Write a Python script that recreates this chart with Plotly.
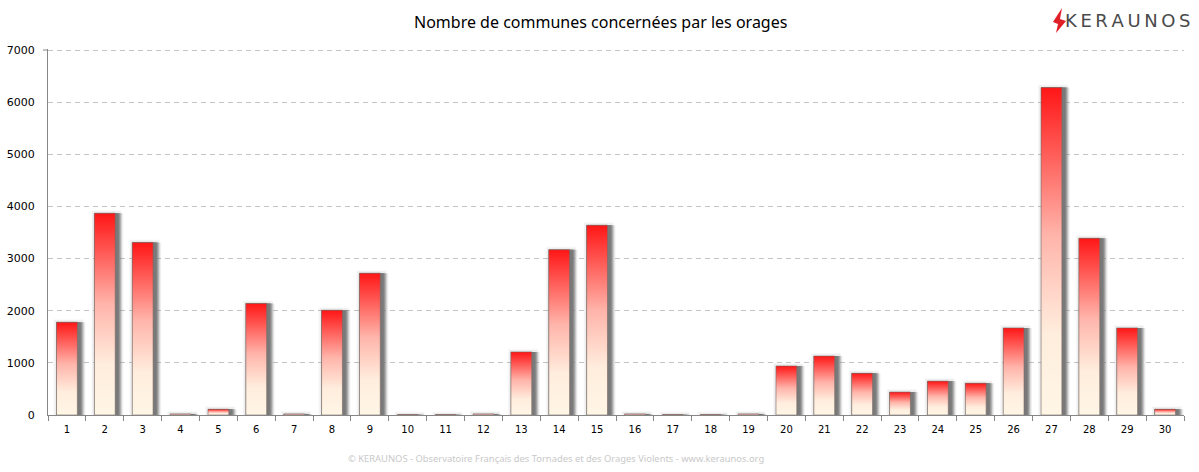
import plotly.graph_objects as go

# storms per day of the month
days = list(range(1, 31))
communes = [1780, 3870, 3310, 20, 110, 2140, 20, 2010, 2720, 5,
            5, 20, 1210, 3170, 3640, 20, 5, 5, 20, 940,
            1130, 800, 440, 650, 610, 1670, 6280, 3390, 1670, 110]
y_ticks = [0, 1000, 2000, 3000, 4000, 5000, 6000, 7000]

title = 'Nombre de communes concernées par les orages'
footer = '© KERAUNOS - Observatoire Français des Tornades et des Orages Violents - www.keraunos.org'

BAR_W = 0.55
PX = 1 / 37.87  # one pixel in x units
PY = 7020 / 366  # one pixel in y units
font_txt = 'Noto Sans'
gradient = [[0, '#fff6e6'], [0.25, '#ffeddd'], [0.55, '#ffb4aa'], [1, '#ff1616']]

fig = go.Figure()

# faint halo around the shadow, reaches a little above and left of the bar
for grow, col in [(3, 'rgba(120,120,120,0.05)'), (2, 'rgba(120,120,120,0.07)')]:
    fig.add_trace(go.Bar(x=days, y=[v + grow * PY for v in communes],
                         width=BAR_W + (grow + 6) * PX, offset=-BAR_W / 2 - grow * PX,
                         marker=dict(color=col, line_width=0),
                         hoverinfo='skip', showlegend=False))

# soft shadow right of the bars, wider and lighter first
for extra, col in [(8, 'rgba(120,120,120,0.10)'), (7, 'rgba(120,120,120,0.16)'),
                   (6, 'rgba(120,120,120,0.26)'), (5, 'rgba(120,120,120,0.45)'),
                   (4, 'rgba(120,120,120,0.7)'), (3, 'rgba(120,120,120,0.9)')]:
    fig.add_trace(go.Bar(x=days, y=communes, width=BAR_W + extra * PX,
                         offset=-BAR_W / 2,
                         marker=dict(color=col, line_width=0),
                         hoverinfo='skip', showlegend=False))

# plotly bars have no gradient fill, so each bar is a filled outline
for d, v in zip(days, communes):
    left, right = d - BAR_W / 2, d + BAR_W / 2
    fig.add_trace(go.Scatter(x=[left, left, right, right, left],
                             y=[0, v, v, 0, 0],
                             mode='lines', fill='toself',
                             fillgradient=dict(type='vertical', colorscale=gradient),
                             line=dict(color='rgba(120,105,100,0.6)', width=1),
                             hoverinfo='skip', showlegend=False))

fig.update_xaxes(range=[0.5, 30.5], tickmode='array', tickvals=days,
                 ticks='', showgrid=False, showline=True, linecolor='#868686',
                 linewidth=1, zeroline=False, fixedrange=True, ticklabelstandoff=5,
                 automargin=False,
                 tickfont=dict(family='DejaVu Sans', size=10, color='#000000'),
                 minor=dict(ticks='outside', tick0=0.5, dtick=1, ticklen=5,
                            tickcolor='#868686', tickwidth=1, showgrid=False))
# top of the range a touch above 7000 so the last gridline is kept
fig.update_yaxes(range=[0, 7020], tickmode='array', tickvals=y_ticks,
                 ticks='', showgrid=True, gridcolor='#c4c4c4', griddash='5px,4px',
                 gridwidth=1, showline=True, linecolor='#868686', linewidth=1,
                 zeroline=False, fixedrange=True, ticklabelstandoff=10,
                 automargin=False,
                 tickfont=dict(family='DejaVu Sans', size=11, color='#000000'))

fig.update_layout(
    width=1199, height=472,
    margin=dict(l=48, r=15, t=49, b=57),
    paper_bgcolor='white', plot_bgcolor='white',
    barmode='overlay', showlegend=False,
    annotations=[
        dict(text=title, xref='paper', yref='paper', x=(600 - 48) / 1136, y=1 + 27 / 366,
             xanchor='center', yanchor='middle', showarrow=False,
             font=dict(family=font_txt, size=16, color='#000000')),
        dict(text=footer, xref='paper', yref='paper', x=(556 - 48) / 1136, y=-43 / 366,
             xanchor='center', yanchor='middle', showarrow=False,
             font=dict(family=font_txt, size=9.4, color='#c9c9c9')),
        dict(text='K\u2009E\u2009R\u2009A\u2009U\u2009N\u2009O\u2009S', xref='paper', yref='paper',
             x=(1192 - 48) / 1136, y=1 + 28 / 366,
             xanchor='right', yanchor='middle', showarrow=False,
             font=dict(family='DejaVu Sans', size=18, color='#4a4a4a')),
    ],
    shapes=[
        # small tick at the top of the y axis
        dict(type='line', xref='paper', yref='y', x0=-5 / 1136, x1=0, y0=7000, y1=7000,
             line=dict(color='#868686', width=1)),
        # logo bolt
        dict(type='path', xref='paper', yref='paper', line_width=0, fillcolor='#e01f26',
             path='M %f %f L %f %f L %f %f L %f %f L %f %f L %f %f Z' % (
                 (1062 - 48) / 1136, 1 + 41 / 366,
                 (1053 - 48) / 1136, 1 + 27 / 366,
                 (1058 - 48) / 1136, 1 + 25 / 366,
                 (1056 - 48) / 1136, 1 + 16 / 366,
                 (1066 - 48) / 1136, 1 + 28 / 366,
                 (1060 - 48) / 1136, 1 + 30 / 366)),
    ],
)

fig.write_html('out.html', config=dict(displayModeBar=False),
               post_script="document.body.style.margin='0';")
